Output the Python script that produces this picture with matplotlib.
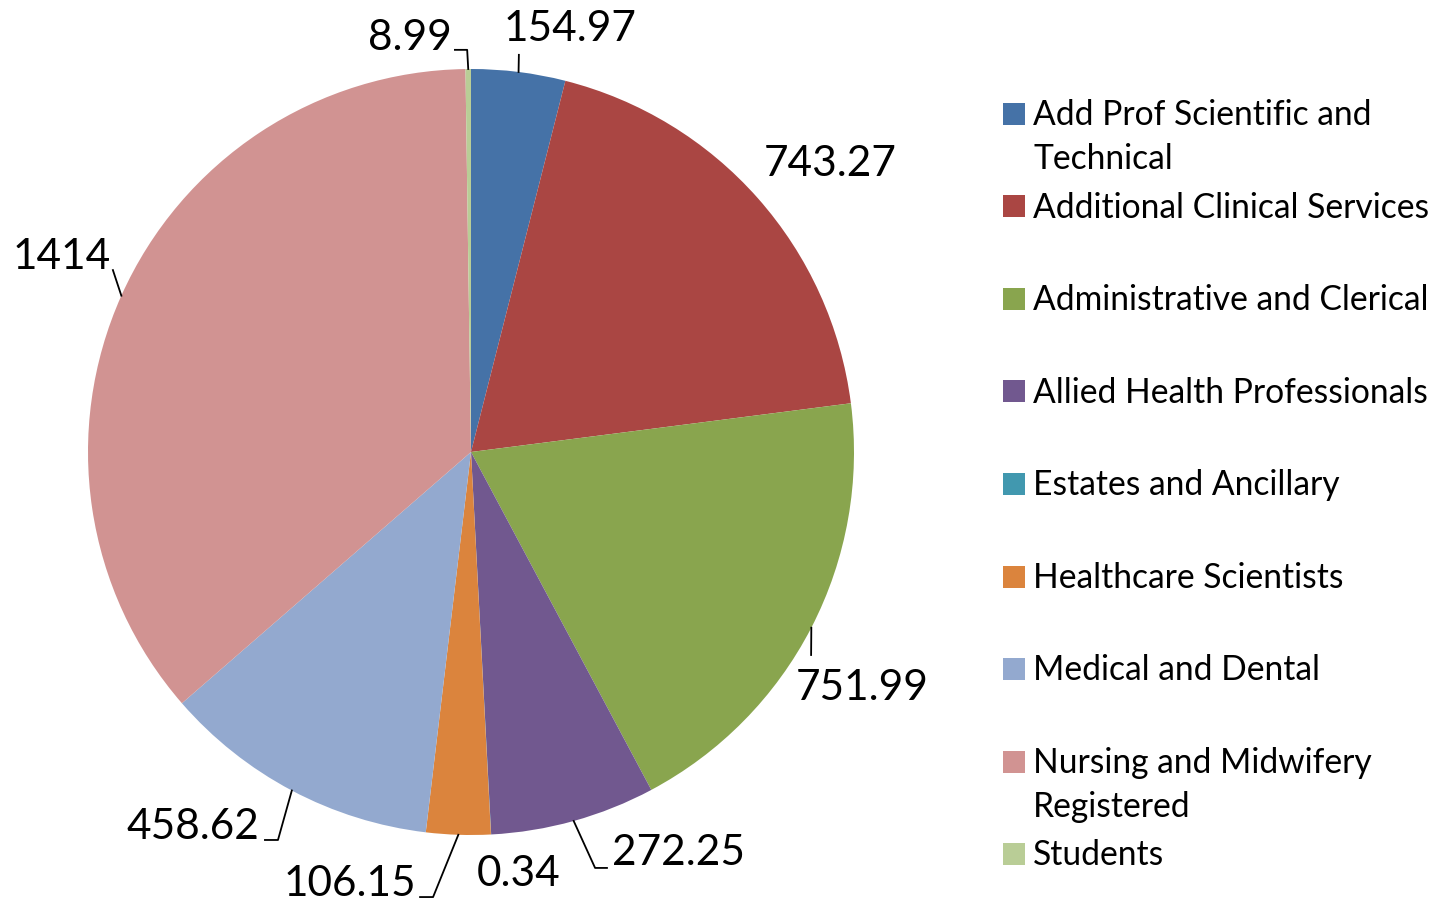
import numpy as np
import matplotlib.pyplot as plt
from matplotlib.patches import Rectangle

categories = ["Add Prof Scientific and\nTechnical",
              "Additional Clinical Services",
              "Administrative and Clerical",
              "Allied Health Professionals",
              "Estates and Ancillary",
              "Healthcare Scientists",
              "Medical and Dental",
              "Nursing and Midwifery\nRegistered",
              "Students"]
values = [154.97, 743.27, 751.99, 272.25, 0.34, 106.15, 458.62, 1414, 8.99]
value_labels = ["154.97", "743.27", "751.99", "272.25", "0.34", "106.15", "458.62", "1414", "8.99"]
colors = ["#4572A7", "#AA4643", "#89A54E", "#71588F", "#4198AF",
          "#DB843D", "#93A9CF", "#D19392", "#B9CD96"]

# label centres (data units, radius = 1)
label_pos = [(0.258, 1.104), (0.937, 0.752), (1.021, -0.617), (0.543, -1.047),
             (0.125, -1.102), (-0.316, -1.128), (-0.726, -0.980), (-1.068, 0.509),
             (-0.159, 1.081)]
# leader line elbows / ends (None = no leader)
leaders = [[(0.125, 1.037)],
           None,
           [(0.888, -0.530)],
           [(0.324, -1.086), (0.355, -1.086)],
           None,
           [(-0.099, -1.162), (-0.133, -1.162)],
           [(-0.504, -1.013), (-0.538, -1.013)],
           [(-0.935, 0.475)],
           [(-0.010, 1.050), (-0.042, 1.050)]]

plt.rcParams['font.family'] = ['Lato', 'DejaVu Sans']

W, H = 1442, 905
fig = plt.figure(figsize=(W / 100, H / 100), dpi=100)
cx, cy, r = 471, 452, 383
ax = fig.add_axes([(cx - r) / W, (H - cy - r) / H, 2 * r / W, 2 * r / H])
wedges, _ = ax.pie(values, colors=colors, startangle=90, counterclock=False,
                   radius=1, wedgeprops=dict(linewidth=0))
ax.set_xlim(-1, 1)
ax.set_ylim(-1, 1)
ax.set_axis_off()

for w, lab, pos, lead in zip(wedges, value_labels, label_pos, leaders):
    mid = np.deg2rad((w.theta1 + w.theta2) / 2)
    if lead is not None:
        pts = [(np.cos(mid), np.sin(mid))] + lead
        xs, ys = zip(*pts)
        ax.plot(xs, ys, color="black", lw=1.3, clip_on=False)
    ax.text(pos[0], pos[1], lab, ha="center", va="center", fontsize=30.5,
            color="black", clip_on=False)

# legend
x_sq, x_txt = 1003, 1033
base0, step, line_step = 125, 92.5, 44
for i, (cat, col) in enumerate(zip(categories, colors)):
    base = base0 + i * step
    fig.patches.append(Rectangle((x_sq / W, (H - base) / H), 22 / W, 22 / H,
                                 transform=fig.transFigure, facecolor=col,
                                 edgecolor="none"))
    for j, line in enumerate(cat.split("\n")):
        fig.text(x_txt / W, (H - base - j * line_step) / H, line,
                 ha="left", va="baseline", fontsize=24.2, color="black")

fig.savefig("out.png", dpi=100)
